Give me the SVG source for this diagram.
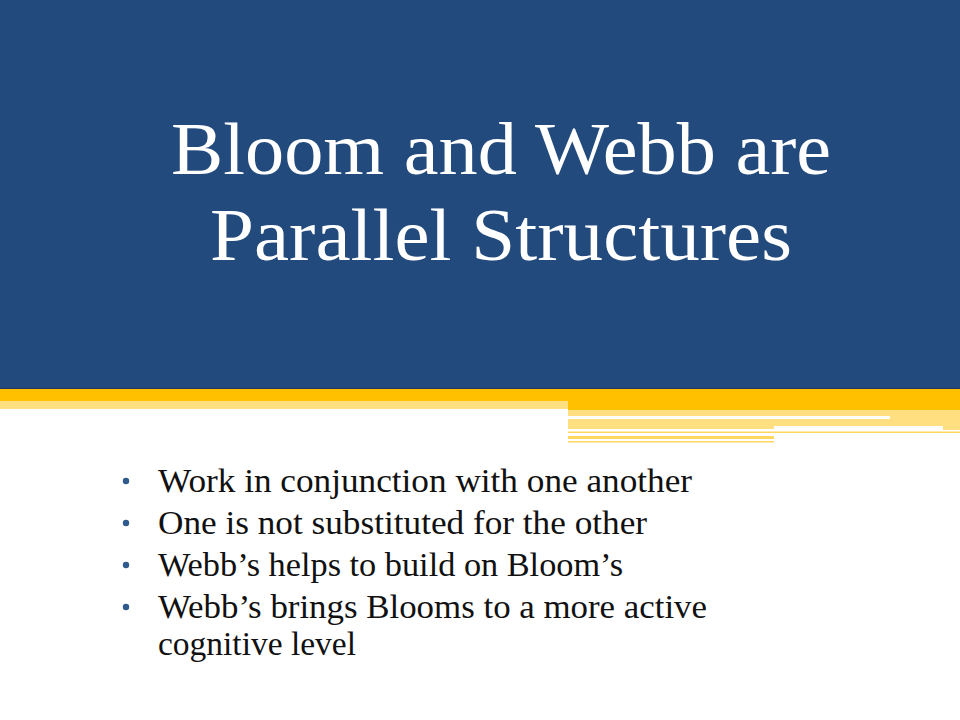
<svg xmlns="http://www.w3.org/2000/svg" width="960" height="720" viewBox="0 0 960 720">
<style>
.title{font-family:"Liberation Serif","Times New Roman",serif;font-size:74px;fill:#ffffff}
.body{font-family:"Liberation Serif","Times New Roman",serif;font-size:33px;fill:#111111}
.bullet{fill:#2E5A8C}
.yl{fill:#FFC000}
.lt{fill:#FFDF80}
.ln{fill:#FFD75F}
</style>
<rect width="960" height="720" fill="#ffffff"/>
<g id="header">
<rect x="0" y="0" width="960" height="388" fill="#224A7C"/>
<rect x="0" y="388" width="960" height="1.2" fill="#23364F"/>
</g>
<g id="stripes">
<rect class="yl" x="0" y="389" width="568" height="12"/>
<rect class="yl" x="568" y="389" width="392" height="21"/>
<rect class="lt" x="0" y="401" width="568" height="8"/>
<rect class="lt" x="568" y="410" width="392" height="20"/>
<rect fill="#ffffff" x="568" y="416" width="322" height="3"/>
<rect fill="#ffffff" x="774" y="426" width="169" height="5"/>
<rect fill="#ffffff" x="568" y="429" width="206" height="2"/>
<rect class="ln" x="568" y="431.5" width="392" height="1.5"/>
<rect class="ln" x="568" y="436" width="206" height="3"/>
<rect class="ln" x="568" y="441" width="206" height="1.5"/>
</g>
<g id="title">
<text class="title" x="171" y="174" textLength="660" lengthAdjust="spacingAndGlyphs">Bloom and Webb are</text>
<text class="title" x="210" y="260" textLength="582" lengthAdjust="spacingAndGlyphs">Parallel Structures</text>
</g>
<g id="bullets">
<circle class="bullet" cx="126" cy="481" r="3.2"/>
<text class="body" x="158" y="492" textLength="534" lengthAdjust="spacingAndGlyphs">Work in conjunction with one another</text>
<circle class="bullet" cx="126" cy="523" r="3.2"/>
<text class="body" x="158" y="534" textLength="489" lengthAdjust="spacingAndGlyphs">One is not substituted for the other</text>
<circle class="bullet" cx="126" cy="565" r="3.2"/>
<text class="body" x="158" y="576" textLength="465" lengthAdjust="spacingAndGlyphs">Webb’s helps to build on Bloom’s</text>
<circle class="bullet" cx="126" cy="607" r="3.2"/>
<text class="body" x="158" y="618" textLength="549" lengthAdjust="spacingAndGlyphs">Webb’s brings Blooms to a more active</text>
<text class="body" x="158" y="655" textLength="198" lengthAdjust="spacingAndGlyphs">cognitive level</text>
</g>
</svg>
